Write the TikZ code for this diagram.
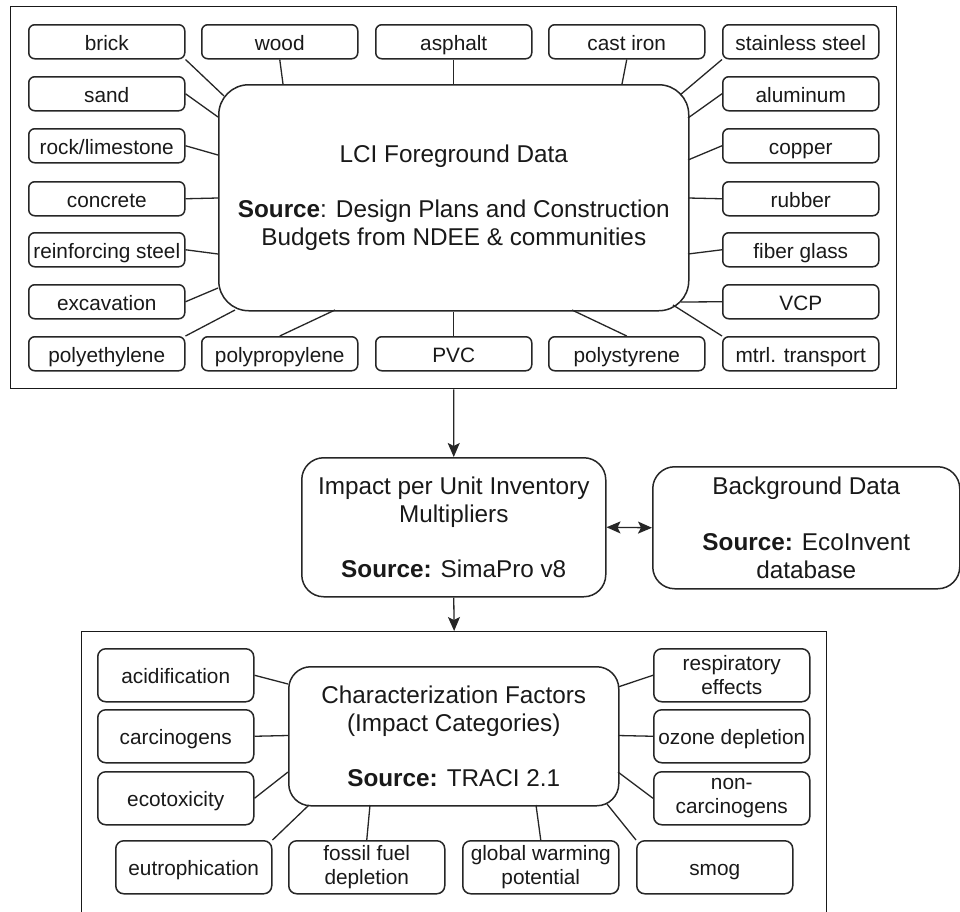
\documentclass[tikz,border=0pt]{standalone}
\usepackage{fontspec}
\setmainfont{Liberation Sans}
\usetikzlibrary{arrows.meta}

\begin{document}
\begin{tikzpicture}[x=1pt,y=-1pt,
  every node/.style={font=\fontsize{20.8}{24.5}\selectfont, text=black!90},
  matbox/.style={draw=black!85, line width=1.5pt, rounded corners=6pt,
    minimum width=156pt, minimum height=34pt, inner sep=0pt,
    anchor=north west, align=center},
  oneline/.style={text height=20pt, text depth=3.4pt},
  catbox/.style={matbox, minimum height=53pt, rounded corners=8pt},
  hubbox/.style={draw=black!85, line width=1.5pt, inner sep=0pt,
    anchor=north west, align=center, font=\fontsize{24.3}{27.8}\selectfont},
  panelbox/.style={draw=black!90, line width=1.3pt, inner sep=0pt, anchor=north west},
  linkline/.style={draw=black!85, line width=1.3pt},
  flowarrow/.style={linkline, -{Stealth[length=14pt,width=12pt,inset=3pt]}},
  twoway/.style={linkline, {Stealth[length=14pt,width=12pt,inset=3pt]}-{Stealth[length=14pt,width=12pt,inset=3pt]}},
]
\clip (0,0) rectangle (960,911);
\fill[white] (0,0) rectangle (960,911);

% ---------- foreground inventory panel ----------
\node[panelbox, minimum width=886pt, minimum height=382pt] (fgpanel) at (10,6) {};
\node[hubbox, rounded corners=30pt, minimum width=470pt, minimum height=226pt] (lci) at (218,84)
  {LCI Foreground Data\\[27.8pt]\textbf{Source}: Design Plans and Construction\\Budgets from NDEE \& communities};

% top row
\node[matbox, oneline] (brick)     at (28,24)  {brick};
\node[matbox, oneline] (wood)      at (201,24) {wood};
\node[matbox, oneline] (asphalt)   at (375,24) {asphalt};
\node[matbox, oneline] (castiron)  at (548,24) {cast iron};
\node[matbox, oneline] (stainless) at (722,24) {stainless steel};
% left column
\node[matbox, oneline] (sand)      at (28,76)  {sand};
\node[matbox, oneline] (rock)      at (28,128) {rock/limestone};
\node[matbox, oneline] (concrete)  at (28,181) {concrete};
\node[matbox, oneline] (reinf)     at (28,232) {reinforcing steel};
\node[matbox, oneline] (excav)     at (28,284) {excavation};
% bottom row
\node[matbox, oneline] (polyeth)   at (28,336)  {polyethylene};
\node[matbox, oneline] (polyprop)  at (201,336) {polypropylene};
\node[matbox, oneline] (pvc)       at (375,336) {PVC};
\node[matbox, oneline] (polysty)   at (548,336) {polystyrene};
\node[matbox, oneline] (transport) at (722,336) {mtrl. transport};
% right column
\node[matbox, oneline] (aluminum)  at (722,76)  {aluminum};
\node[matbox, oneline] (copper)    at (722,128) {copper};
\node[matbox, oneline] (rubber)    at (722,181) {rubber};
\node[matbox, oneline] (fiber)     at (722,232) {fiber glass};
\node[matbox, oneline] (vcp)       at (722,284) {VCP};

\draw[linkline] (brick.south east) -- ([shift={(6,12)}]lci.north west);
\draw[linkline] (wood.south) -- ([shift={(65,0)}]lci.north west);
\draw[linkline] (asphalt.south) -- (lci.north);
\draw[linkline] (castiron.south) -- ([shift={(404,0)}]lci.north west);
\draw[linkline] (stainless.south west) -- ([shift={(462,11)}]lci.north west);
\draw[linkline] (sand.east) -- ([shift={(0,33)}]lci.north west);
\draw[linkline] (rock.east) -- ([shift={(0,71)}]lci.north west);
\draw[linkline] (concrete.east) -- ([shift={(0,114)}]lci.north west);
\draw[linkline] (reinf.east) -- ([shift={(0,170)}]lci.north west);
\draw[linkline] (excav.east) -- ([shift={(0,204)}]lci.north west);
\draw[linkline] (polyeth.north east) -- ([shift={(17,226)}]lci.north west);
\draw[linkline] (polyprop.north) -- ([shift={(117,226)}]lci.north west);
\draw[linkline] (pvc.north) -- (lci.south);
\draw[linkline] (polysty.north) -- ([shift={(354,226)}]lci.north west);
\draw[linkline] (transport.north west) -- ([shift={(455,221)}]lci.north west);
\draw[linkline] (vcp.west) -- ([shift={(463,218)}]lci.north west);
\draw[linkline] (fiber.west) -- ([shift={(470,170)}]lci.north west);
\draw[linkline] (rubber.west) -- ([shift={(470,114)}]lci.north west);
\draw[linkline] (copper.west) -- ([shift={(470,76)}]lci.north west);
\draw[linkline] (aluminum.west) -- ([shift={(470,34)}]lci.north west);

% ---------- multipliers and background data ----------
\node[hubbox, rounded corners=22pt, minimum width=304pt, minimum height=139pt] (impact) at (301,457)
  {Impact per Unit Inventory\\Multipliers\\[27.8pt]\textbf{Source:} SimaPro v8};
\node[hubbox, rounded corners=22pt, minimum width=307pt, minimum height=122pt] (background) at (652,466)
  {Background Data\\[27.8pt]\textbf{Source:} EcoInvent\\database};

\draw[flowarrow] (fgpanel.south) -- (impact.north);
\draw[twoway] (impact.east) -- (background.west);

% ---------- impact assessment panel ----------
\node[panelbox, minimum width=745pt, minimum height=330pt] (catpanel) at (81,631) {};
\draw[flowarrow] (impact.south) -- (catpanel.north);

\node[hubbox, rounded corners=22pt, minimum width=330pt, minimum height=139pt] (charf) at (288,666)
  {Characterization Factors\\(Impact Categories)\\[27.8pt]\textbf{Source:} TRACI 2.1};

\node[catbox, oneline] (acid)    at (97,648)  {acidification};
\node[catbox, oneline] (carc)    at (97,709)  {carcinogens};
\node[catbox, oneline] (ecotox)  at (97,771)  {ecotoxicity};
\node[catbox, oneline] (eutro)   at (115,840) {eutrophication};
\node[catbox] (fossil)  at (288,840) {fossil fuel\\depletion};
\node[catbox] (gwp)     at (462,840) {global warming\\potential};
\node[catbox, oneline] (smog)    at (636,840) {smog};
\node[catbox] (resp)    at (653,648) {respiratory\\effects};
\node[catbox, oneline] (ozone)   at (653,709) {ozone depletion};
\node[catbox] (noncarc) at (653,771) {non-\\carcinogens};

\draw[linkline] (acid.east) -- ([shift={(0,18)}]charf.north west);
\draw[linkline] (carc.east) -- ([shift={(0,69.5)}]charf.north west);
\draw[linkline] (ecotox.east) -- ([shift={(0,106)}]charf.north west);
\draw[linkline] (eutro.north east) -- ([shift={(21,139)}]charf.north west);
\draw[linkline] (fossil.north) -- ([shift={(82,139)}]charf.north west);
\draw[linkline] (gwp.north) -- ([shift={(248,139)}]charf.north west);
\draw[linkline] (smog.north west) -- ([shift={(319,138)}]charf.north west);
\draw[linkline] (resp.west) -- ([shift={(330,21)}]charf.north west);
\draw[linkline] (ozone.west) -- ([shift={(330,69.5)}]charf.north west);
\draw[linkline] (noncarc.west) -- ([shift={(330,106)}]charf.north west);
\end{tikzpicture}
\end{document}
